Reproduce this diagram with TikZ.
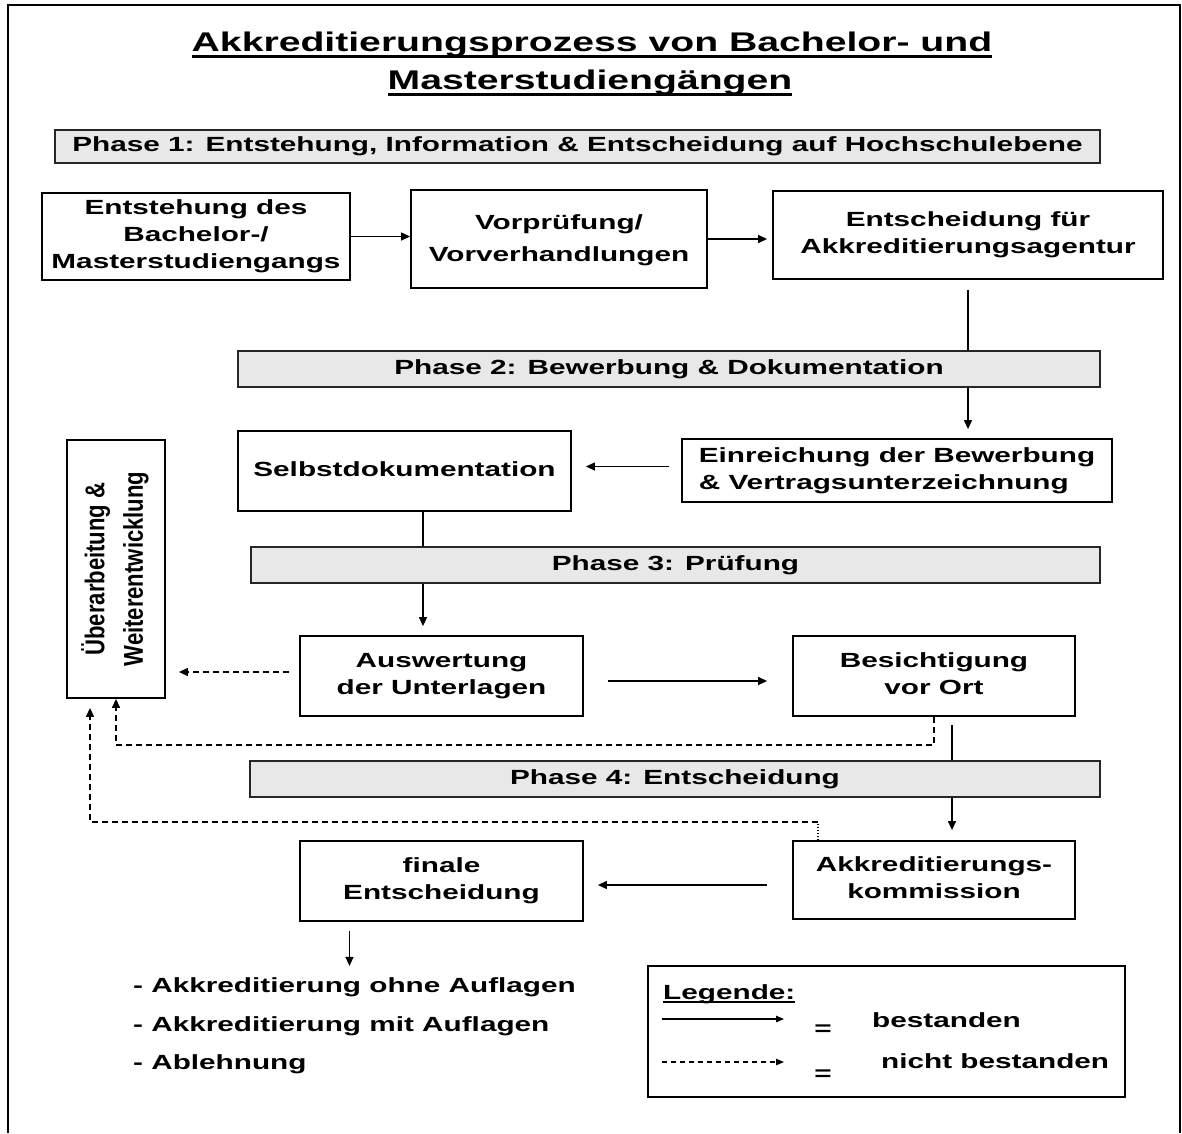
\documentclass[tikz,border=0pt]{standalone}
\usepackage{fontspec}
\setmainfont{Liberation Sans}
\usetikzlibrary{arrows.meta,backgrounds}
\newcommand\stx[2][c]{\scalebox{1.45}[1]{\begin{tabular}{@{}#1@{}}#2\end{tabular}}}
\newcommand\thickul[3]{\setbox0\hbox{#3}\rlap{\raisebox{-#1}{\rule{\wd0}{#2}}}\box0}
\begin{document}
\begin{tikzpicture}[x=1pt,y=-1pt,
  txt/.style={font=\fontsize{20.5}{27}\selectfont\bfseries},
  box/.style={txt,draw=black,line width=1.8pt,fill=white,inner sep=0pt},
  phasebar/.style={txt,draw=black!85,line width=1.6pt,fill=black!9,inner sep=0pt},
  arr/.style={line width=1.3pt,-{Triangle[length=9pt,width=8pt]}},
  dsh/.style={line width=1.3pt,dash pattern=on 6pt off 4pt},
  lgarr/.style={line width=1.1pt,-{Triangle[length=8pt,width=6.5pt]}}]
\useasboundingbox (0,0) rectangle (1182,1133);
\draw[line width=2pt] (8,1133) -- (8,5) -- (1180,5) -- (1180,1133);

% title
\node[anchor=base,inner sep=0pt,font=\fontsize{27}{30}\selectfont\bfseries] (t1) at (592,51)
  {\scalebox{1.45}[1]{\thickul{7pt}{2.6pt}{Akkreditierungsprozess von Bachelor- und}}};
\node[anchor=base,inner sep=0pt,font=\fontsize{27}{30}\selectfont\bfseries] (t2) at (590,89)
  {\scalebox{1.45}[1]{\thickul{7pt}{2.6pt}{Masterstudiengängen}}};

% phase bars
\node[phasebar,minimum width=1045pt,minimum height=33pt] (P1) at (577.5,146.5)
  {\stx{Phase 1: Entstehung, Information \& Entscheidung auf Hochschulebene}};
\node[phasebar,minimum width=862pt,minimum height=36pt] (P2) at (669,369)
  {\stx{Phase 2: Bewerbung \& Dokumentation}};
\node[phasebar,minimum width=849pt,minimum height=36pt] (P3) at (675.5,565)
  {\stx{Phase 3: Prüfung}};
\node[phasebar,minimum width=850pt,minimum height=36pt] (P4) at (675,779)
  {\stx{Phase 4: Entscheidung}};

% boxes
\node[box,minimum width=308pt,minimum height=87pt] (A) at (196,236.5)
  {\stx{Entstehung des\\Bachelor-/\\Masterstudiengangs}};
\node[box,minimum width=296pt,minimum height=98pt,font=\fontsize{20.5}{32}\selectfont\bfseries] (B) at (559,239)
  {\stx{Vorprüfung/\\Vorverhandlungen}};
\node[box,minimum width=390pt,minimum height=88pt] (C) at (968,235)
  {\stx{Entscheidung für\\Akkreditierungsagentur}};
\node[box,minimum width=430pt,minimum height=63pt] (D) at (897,470.5)
  {\stx[l]{Einreichung der Bewerbung\\\& Vertragsunterzeichnung}};
\node[box,minimum width=333pt,minimum height=80pt] (E) at (404.5,471)
  {\stx{Selbstdokumentation}};
\node[box,minimum width=283pt,minimum height=80pt] (F) at (441.5,676)
  {\stx{Auswertung\\der Unterlagen}};
\node[box,minimum width=282pt,minimum height=80pt] (G) at (934,676)
  {\stx{Besichtigung\\vor Ort}};
\node[box,minimum width=98pt,minimum height=258pt] (H) at (116,569)
  {\rotatebox{90}{\scalebox{1.3}[1.6]{\fontsize{17}{24}\selectfont\bfseries\begin{tabular}{@{}c@{}}Überarbeitung \&\\Weiterentwicklung\end{tabular}}}};
\node[box,minimum width=282pt,minimum height=78pt] (I) at (934,880)
  {\stx{Akkreditierungs-\\kommission}};
\node[box,minimum width=283pt,minimum height=80pt] (J) at (441.5,881)
  {\stx{finale\\Entscheidung}};

% result list
\node[txt,anchor=base west,inner sep=0pt] (L1) at (133,992) {\stx{- Akkreditierung ohne Auflagen}};
\node[txt,anchor=base west,inner sep=0pt] (L2) at (133,1031) {\stx{- Akkreditierung mit Auflagen}};
\node[txt,anchor=base west,inner sep=0pt] (L3) at (133,1069) {\stx{- Ablehnung}};

% legend
\node[draw=black,line width=1.6pt,minimum width=477pt,minimum height=131pt] (LG) at (886.5,1031.5) {};
\node[txt,anchor=base west,inner sep=0pt] (LGt) at (663,999) {\scalebox{1.45}[1]{\thickul{4pt}{2pt}{Legende:}}};
\coordinate (la1) at (662,1019);
\coordinate (la2) at (784,1019);
\coordinate (lb1) at (662,1062);
\coordinate (lb2) at (784,1062);
\draw[lgarr] (la1) -- (la2);
\draw[lgarr,dash pattern=on 5pt off 4pt] (lb1) -- (lb2);
\node[txt,inner sep=0pt] (eq1) at (823,1030) {\stx{=}};
\node[txt,inner sep=0pt] (eq2) at (823,1075) {\stx{=}};
\node[txt,anchor=base west,inner sep=0pt] (lt1) at (872,1027) {\stx{bestanden}};
\node[txt,anchor=base west,inner sep=0pt] (lt2) at (881,1068) {\stx{nicht bestanden}};

% connectors
\begin{scope}[on background layer]
\draw[arr] (A.east) -- (A.east -| B.west);
\draw[arr,shorten >=5pt] (B.east) -- (B.east -| C.west);
\draw[arr,shorten <=10pt,shorten >=9pt] (C.south) -- (C.south |- D.north);
\draw[arr,shorten <=12pt,shorten >=14pt] ([yshift=4pt]D.west) -- ([yshift=4pt]D.west -| E.east);
\draw[arr,shorten >=9pt] ([xshift=18.5pt]E.south) -- ([xshift=18.5pt]E.south |- F.north);
\draw[arr,shorten <=24pt,shorten >=25pt] ([yshift=-5pt]F.east) -- ([yshift=-5pt]F.east -| G.west);
\draw[arr,dsh,shorten <=10pt,shorten >=13pt] ([yshift=4pt]F.west) -- ([yshift=4pt]F.west -| H.east);
\draw[arr,dsh] (G.south) -- ++(0,28) -| (H.south);
\draw[arr,shorten <=8pt,shorten >=10pt] ([xshift=18pt]G.south) -- ([xshift=18pt]G.south |- I.north);
\draw[line width=1.1pt,dotted] ([xshift=-116pt]I.north) -- ++(0,-18);
\draw[arr,dsh,shorten >=9pt] ([xshift=-116pt,yshift=18pt]I.north) -| ([xshift=-26pt]H.south);
\draw[arr,shorten <=25pt,shorten >=14pt] ([yshift=-5pt]I.west) -- ([yshift=-5pt]I.west -| J.east);
\draw[arr,shorten <=9pt] ([xshift=-92pt]J.south) -- ++(0,44);
\end{scope}
\end{tikzpicture}
\end{document}
